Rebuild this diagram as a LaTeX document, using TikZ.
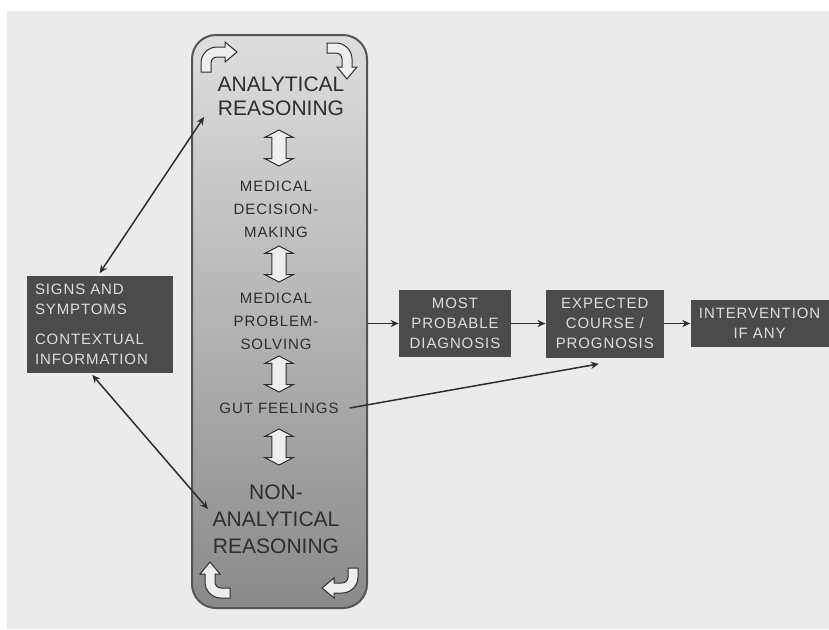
\documentclass[tikz,border=0pt]{standalone}
\usepackage{fontspec}
\setmainfont{Liberation Sans}
\newfontfamily\trackfont[LetterSpace=6.0]{Liberation Sans}
\usetikzlibrary{arrows.meta, positioning, shapes.arrows, calc}

\definecolor{bggray}{HTML}{EBEBEB}
\definecolor{boxdark}{HTML}{4B4B4B}
\definecolor{boxtext}{HTML}{DDDDDD}
\definecolor{shadetop}{HTML}{DEDEDE}
\definecolor{shadebot}{HTML}{8A8A8A}
\definecolor{inkgray}{HTML}{2E2E2E}
\definecolor{rimgray}{HTML}{555555}
\definecolor{arrowfill}{HTML}{EEEEEE}

\begin{document}
\begin{tikzpicture}[x=0.5pt, y=-0.5pt, >={Stealth[length=4pt, width=3.6pt]},
    bigbox/.style={draw=rimgray, line width=1pt, rounded corners=12pt,
      top color=shadetop, bottom color=shadebot, inner sep=0pt},
    darkbox/.style={fill=boxdark, text=boxtext, inner sep=0pt, align=center,
      font=\trackfont\fontsize{7.5}{10}\selectfont},
    bigtext/.style={text=inkgray, align=center, font=\fontsize{10.5}{12}\selectfont},
    smalltext/.style={text=inkgray, align=center,
      font=\trackfont\fontsize{7.5}{11.5}\selectfont},
    dblarrow/.style={double arrow, rotate=90, draw=inkgray, fill=arrowfill,
      line width=0.5pt, inner xsep=0pt, inner ysep=3.3pt, minimum height=18pt,
      double arrow head extend=3.5pt, double arrow tip angle=125},
    turnfill/.style={fill=arrowfill, draw=inkgray, line width=0.5pt},
    link/.style={draw=inkgray, line width=0.75pt},
    turnarrow/.pic={
      \filldraw[turnfill] (-18,15) -- (-18,6) arc[start angle=180, end angle=270, radius=16]
        -- (6,-10) -- (6,-15) -- (18,-5) -- (6,5) -- (6,0) -- (-2,0)
        arc[start angle=270, end angle=180, radius=6] -- (-8,15) -- cycle;
    }]

  \useasboundingbox (0,0) rectangle (829,629);
  \fill[bggray] (7,11) rectangle (829,629);

  % reasoning column
  \node[bigbox, minimum width=87.5pt, minimum height=286.5pt] (rsn) at (279.5,321.5) {};

  \pic at (219,57) {turnarrow};
  \pic[rotate=-90] at (342,61) {turnarrow};
  \pic[rotate=180] at (340,583) {turnarrow};
  \pic[rotate=90] at (215,580) {turnarrow};

  \node[bigtext] (anl) at (281,96) {ANALYTICAL\\REASONING};
  \node[dblarrow] (da1) at (279,148) {};
  \node[smalltext] (dec) at (276,209) {MEDICAL\\DECISION-\\MAKING};
  \node[dblarrow] (da2) at (279,264) {};
  \node[smalltext] (prb) at (276,321) {MEDICAL\\PROBLEM-\\SOLVING};
  \node[dblarrow] (da3) at (279,374) {};
  \node[smalltext] (gut) at (279,408) {GUT FEELINGS};
  \node[dblarrow] (da4) at (279,447) {};
  \node[bigtext, font=\fontsize{10.5}{13.5}\selectfont] (non) at (276,519)
    {NON-\\ANALYTICAL\\REASONING};

  \coordinate (anlin) at (204,117);
  \coordinate (nonin) at (208,509);

  % input box (left)
  \node[darkbox, minimum width=73pt, minimum height=48.5pt, text width=65pt,
    align=left] (sig) at (100,324.5)
    {SIGNS AND\\SYMPTOMS\\[5pt]CONTEXTUAL\\INFORMATION};

  % outcome chain (right)
  \node[darkbox, minimum width=56pt, minimum height=33.5pt] (diag) at (455,323.5)
    {MOST\\PROBABLE\\DIAGNOSIS};
  \node[darkbox, minimum width=59pt, minimum height=34pt, right=17pt of diag] (prog)
    {EXPECTED\\COURSE /\\PROGNOSIS};
  \node[darkbox, minimum width=69pt, minimum height=23.5pt, right=13pt of prog] (intv)
    {INTERVENTION\\IF ANY};

  % connectors
  \draw[link, <->, shorten <=1.5pt] ([xshift=-1pt]sig.north) -- (anlin);
  \draw[link, <->, shorten <=1pt] ([xshift=-4.5pt]sig.south) -- (nonin);
  \draw[link, ->] (rsn.east |- diag.west) -- (diag.west);
  \draw[link, ->] (diag) -- (prog);
  \draw[link, ->] (prog.east) -- (prog.east -| intv.west);
  \draw[link, ->] ([xshift=2pt]gut.east) -- ($(prog.south)+(-6,6)$);

\end{tikzpicture}
\end{document}
